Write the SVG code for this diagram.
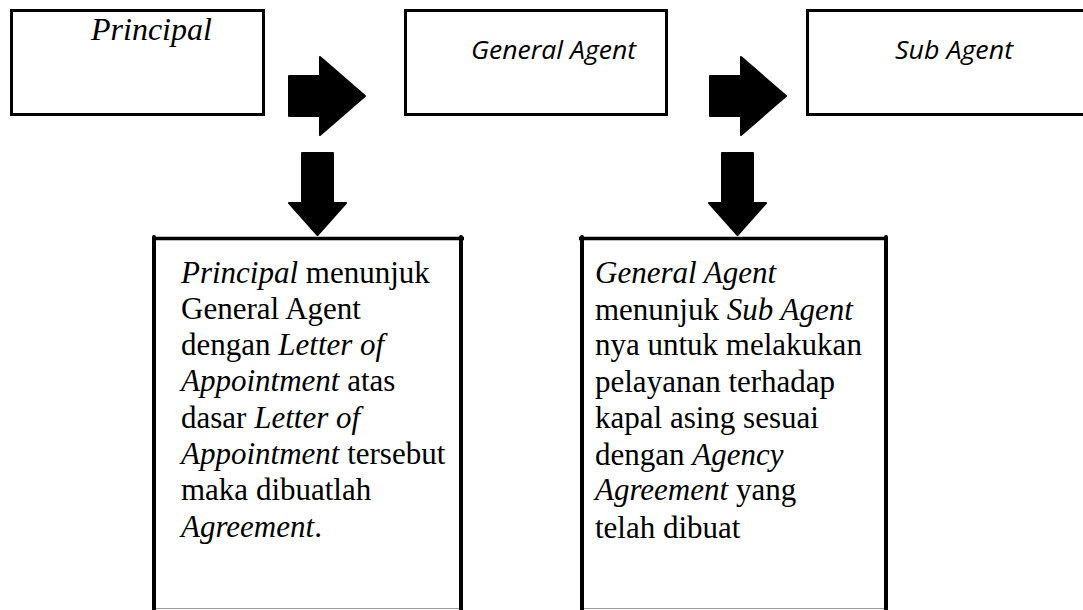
<svg xmlns="http://www.w3.org/2000/svg" width="1083" height="610" viewBox="0 0 1083 610">
<style>
.box{fill:#fff;stroke:#000;stroke-width:3}
.arrow{fill:#000;stroke:#000;stroke-width:2;stroke-linejoin:round}
.serif{font-family:"Liberation Serif","Times New Roman",serif;fill:#000}
.sans{font-family:"Open Sans","Noto Sans",sans-serif;font-style:italic;fill:#000}
.body{font-size:31px}
.it{font-style:italic}
.side{stroke:#000;stroke-width:4;stroke-linecap:round}
.top{stroke:#000;stroke-width:3.5}
.bot{stroke:#999;stroke-width:1}
</style>
<rect width="1083" height="610" fill="#fff"/>
<g id="principal">
<rect class="box" x="11.5" y="10.5" width="252" height="104"/>
<text class="serif it" x="91" y="40" font-size="32" font-family="Liberation Serif">Principal</text>
</g>
<g id="general-agent">
<rect class="box" x="405.5" y="10.5" width="261" height="104"/>
<text class="sans" x="471" y="59" font-size="26" textLength="165" lengthAdjust="spacingAndGlyphs">General Agent</text>
</g>
<g id="sub-agent">
<rect class="box" x="807.5" y="10.5" width="290" height="104"/>
<text class="sans" x="895" y="59" font-size="26" textLength="118" lengthAdjust="spacingAndGlyphs">Sub Agent</text>
</g>
<g id="connectors">
<path class="arrow" d="M289,76 H320 V57 L365,96 L320,135 V116 H289 Z"/>
<path class="arrow" d="M710,76 H741 V57 L786,96 L741,135 V116 H710 Z"/>
<path class="arrow" d="M302,153 H333 V203 H346 L317.5,235 L289,203 H302 Z"/>
<path class="arrow" d="M722,153 H753 V203 H766 L737.5,235 L709,203 H722 Z"/>
</g>
<g id="note-1">
<line class="bot" x1="154" y1="608.5" x2="461" y2="608.5"/>
<line class="top" x1="152" y1="238.5" x2="464" y2="238.5"/>
<line class="side" x1="154" y1="237" x2="154" y2="612"/>
<line class="side" x1="461" y1="237" x2="461" y2="612"/>
<text class="serif body" x="181" font-family="Liberation Serif">
<tspan x="181" y="283"><tspan class="it">Principal</tspan> menunjuk</tspan>
<tspan x="181" y="319">General Agent</tspan>
<tspan x="181" y="355">dengan <tspan class="it">Letter of</tspan></tspan>
<tspan x="181" y="391"><tspan class="it">Appointment</tspan> atas</tspan>
<tspan x="181" y="428">dasar <tspan class="it">Letter of</tspan></tspan>
<tspan x="181" y="464"><tspan class="it">Appointment</tspan> tersebut</tspan>
<tspan x="181" y="500">maka dibuatlah</tspan>
<tspan x="181" y="537"><tspan class="it">Agreement</tspan>.</tspan>
</text>
</g>
<g id="note-2">
<line class="bot" x1="582" y1="608.5" x2="886" y2="608.5"/>
<line class="top" x1="579" y1="238.5" x2="888" y2="238.5"/>
<line class="side" x1="582" y1="237" x2="582" y2="612"/>
<line class="side" x1="886" y1="237" x2="886" y2="612"/>
<text class="serif body" x="595" font-family="Liberation Serif">
<tspan x="595" y="283" class="it">General Agent</tspan>
<tspan x="595" y="320">menunjuk <tspan class="it">Sub Agent</tspan></tspan>
<tspan x="595" y="355">nya untuk melakukan</tspan>
<tspan x="595" y="392">pelayanan terhadap</tspan>
<tspan x="595" y="428">kapal asing sesuai</tspan>
<tspan x="595" y="465">dengan <tspan class="it">Agency</tspan></tspan>
<tspan x="595" y="500"><tspan class="it">Agreement</tspan> yang</tspan>
<tspan x="595" y="538">telah dibuat</tspan>
</text>
</g>
</svg>
